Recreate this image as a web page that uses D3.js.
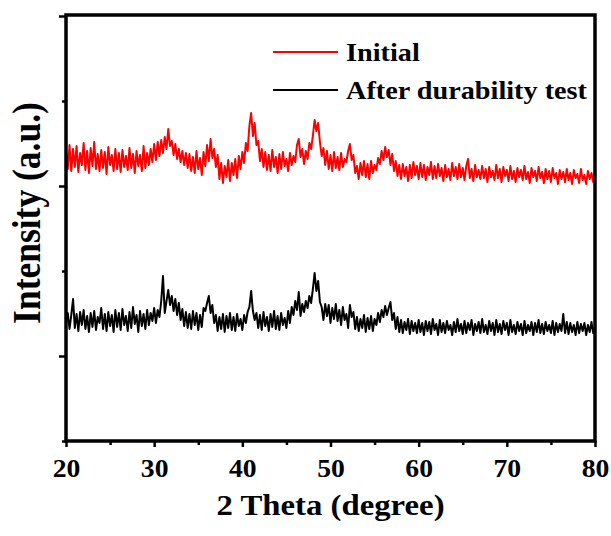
<!DOCTYPE html>
<html>

<head>
    <meta charset="UTF-8">
    <title>XRD</title>
    <script src="https://cdnjs.cloudflare.com/ajax/libs/d3/7.8.5/d3.min.js"></script>
    <style>
        body { margin: 0; background: #fff; }
        text { font-family: "Liberation Serif", "Times New Roman", serif; font-weight: bold; }
    </style>
</head>

<body>
    <svg id="chart"></svg>
    <script>

        // 2 theta grid: 20 to 80 in steps of 0.2 degree
        var thetaStart = 20, thetaStep = 0.2

        // intensity (a.u.), 5 points per degree
        var initial = [
            290, 272, 296, 270, 292,
            274, 295, 269, 288, 276,
            298, 271, 290, 268, 293,
            275, 299, 272, 287, 270,
            291, 273, 289, 267, 294,
            276, 286, 270, 292, 272,
            288, 269, 291, 274, 285,
            271, 293, 273, 287, 268,
            290, 275, 286, 270, 295,
            273, 288, 276, 292, 279,
            297, 281, 299, 285, 301,
            288, 304, 292, 312, 295,
            300, 286, 297, 282, 292,
            279, 290, 276, 288, 273,
            287, 270, 284, 268, 290,
            272, 283, 266, 289, 275,
            296, 280, 302, 283, 292,
            274, 286, 262, 278, 258,
            275, 264, 281, 260, 278,
            266, 282, 263, 285, 272,
            289, 278, 298, 290, 315,
            328, 305, 318, 296, 300,
            280, 292, 274, 289, 271,
            286, 270, 291, 274, 284,
            268, 287, 272, 289, 275,
            282, 270, 288, 276, 285,
            279, 296, 302, 284, 292,
            277, 290, 282, 298, 292,
            305, 321, 310, 318, 299,
            285, 293, 276, 290, 272,
            286, 270, 289, 273, 284,
            271, 288, 274, 282, 279,
            290, 297, 281, 286, 268,
            275, 262, 278, 266, 280,
            264, 277, 262, 280, 268,
            276, 271, 283, 277, 290,
            281, 294, 284, 291, 276,
            287, 270, 280, 265, 276,
            262, 277, 265, 274, 260,
            276, 263, 279, 266, 275,
            262, 278, 264, 276, 261,
            274, 266, 279, 262, 275,
            263, 277, 265, 273, 260,
            276, 264, 272, 261, 278,
            265, 274, 262, 277, 264,
            273, 261, 275, 282, 263,
            272, 260, 276, 264, 271,
            262, 275, 263, 272, 259,
            274, 264, 270, 261, 276,
            263, 272, 259, 274, 265,
            271, 260, 275, 262, 270,
            259, 273, 264, 271, 261,
            275, 262, 269, 258, 273,
            264, 270, 260, 274, 263,
            269, 258, 272, 262, 270,
            259, 273, 263, 268, 257,
            271, 262, 269, 259, 272,
            261, 268, 257, 271, 263,
            267, 258, 272, 261, 266,
            257, 270, 262, 268, 259,
            270
        ]

        var afterTest = [
            118, 128, 112, 126, 142,
            113, 127, 110, 129, 116,
            131, 112, 125, 109, 128,
            114, 130, 111, 124, 118,
            133, 112, 127, 110, 129,
            115, 126, 109, 131, 114,
            128, 111, 132, 116, 125,
            110, 129, 113, 134, 117,
            126, 109, 130, 115, 127,
            112, 131, 116, 128, 120,
            133, 118, 131, 124, 140,
            165, 128, 140, 151, 136,
            145, 130, 142, 126, 138,
            121, 132, 115, 129, 113,
            127, 112, 130, 116, 128,
            111, 126, 114, 133, 130,
            138, 145, 128, 136, 118,
            126, 110, 124, 112, 127,
            109, 125, 113, 128, 111,
            124, 110, 127, 115, 122,
            111, 126, 118, 129, 134,
            150, 130, 121, 128, 113,
            126, 111, 129, 115, 124,
            110, 127, 114, 130, 112,
            125, 111, 128, 116, 123,
            113, 130, 118, 134, 126,
            140, 131, 149, 125, 137,
            129, 140, 133, 145, 138,
            152, 168, 150, 160, 139,
            134, 121, 137, 125, 136,
            118, 133, 122, 137, 120,
            131, 116, 134, 121, 127,
            113, 136, 124, 129, 112,
            124, 110, 122, 113, 126,
            109, 123, 112, 125, 110,
            122, 116, 128, 119, 131,
            124, 135, 126, 133, 139,
            121, 128, 112, 124, 109,
            121, 108, 119, 111, 122,
            107, 120, 110, 118, 108,
            121, 109, 118, 106, 120,
            110, 119, 107, 122, 111,
            117, 106, 121, 109, 118,
            108, 120, 111, 116, 106,
            119, 109, 122, 110, 117,
            107, 120, 108, 118, 111,
            121, 106, 117, 110, 119,
            108, 122, 109, 116, 107,
            120, 110, 118, 106, 121,
            109, 117, 107, 120, 111,
            118, 106, 121, 109, 116,
            107, 119, 110, 117, 106,
            120, 108, 116, 110, 119,
            106, 118, 109, 121, 108,
            117, 107, 119, 110, 116,
            108, 120, 106, 118, 109,
            117, 110, 127, 108, 119,
            107, 118, 109, 116, 106,
            119, 108, 117, 110, 118,
            106, 116, 109, 119, 108,
            115
        ]

        var xMajorTicks = [20, 30, 40, 50, 60, 70, 80]
        var xMinorTicks = [25, 35, 45, 55, 65, 75]
        var yMajorTicks = [85, 255, 425]
        var yMinorTicks = [0, 170, 340]

        var seriesNames = ["Initial", "After durability test"]
        var seriesColors = ["#ff0000", "#000000"]

        var svgWidth = 611, svgHeight = 536
        var margin = { top: 15, right: 16, bottom: 95, left: 66 }
        var width = svgWidth - margin.left - margin.right
        var height = svgHeight - margin.top - margin.bottom
        var stretch = 1.13   // the source text is a bit wider than plain Times

        var svg = d3.select("#chart")
            .attr("width", svgWidth)
            .attr("height", svgHeight)

        var g = svg.append("g")
            .attr("transform", "translate(" + margin.left + "," + margin.top + ")")

        var x = d3.scaleLinear().domain([20, 80]).range([0, width])
        var y = d3.scaleLinear().domain([0, 426]).range([height, 0])

        function toPoints(arr) {
            return arr.map(function (v, i) {
                return { t: thetaStart + i * thetaStep, v: v }
            })
        }

        var line = d3.line()
            .x(function (d) { return x(d.t) })
            .y(function (d) { return y(d.v) })

        var series = [toPoints(initial), toPoints(afterTest)]

        series.forEach(function (s, i) {
            g.append("path")
                .datum(s)
                .attr("fill", "none")
                .attr("stroke", seriesColors[i])
                .attr("stroke-width", 2)
                .attr("stroke-linejoin", "round")
                .attr("d", line)
        })

        // axes
        function styleAxis(sel) {
            sel.select(".domain").remove()
            sel.selectAll(".tick line").attr("stroke", "#000").attr("stroke-width", 2.5)
        }

        var xAxis = g.append("g")
            .attr("transform", "translate(0," + height + ")")
            .call(d3.axisBottom(x).tickValues(xMajorTicks).tickSize(6).tickPadding(10))
        styleAxis(xAxis)
        xAxis.selectAll("text")
            .attr("font-size", 24.5)
            .attr("fill", "#000")
            .attr("y", 0).attr("dy", 0)
            .attr("transform", "translate(0,36) scale(" + stretch + ",1)")

        var xMinor = g.append("g")
            .attr("transform", "translate(0," + height + ")")
            .call(d3.axisBottom(x).tickValues(xMinorTicks).tickSize(4).tickFormat(""))
        styleAxis(xMinor)

        var yAxis = g.append("g")
            .call(d3.axisLeft(y).tickValues(yMajorTicks).tickSize(7).tickFormat(""))
        styleAxis(yAxis)

        var yMinor = g.append("g")
            .call(d3.axisLeft(y).tickValues(yMinorTicks).tickSize(4).tickFormat(""))
        styleAxis(yMinor)

        // frame
        g.append("rect")
            .attr("x", 0).attr("y", 0)
            .attr("width", width).attr("height", height)
            .attr("fill", "none")
            .attr("stroke", "#000")
            .attr("stroke-width", 3.5)

        // axis titles
        svg.append("text")
            .attr("transform", "translate(" + (margin.left + width / 2) + ",515) scale(" + stretch + ",1)")
            .attr("text-anchor", "middle")
            .attr("font-size", 29)
            .text("2 Theta (degree)")

        svg.append("text")
            .attr("transform", "translate(40,213) rotate(-90) scale(1," + stretch + ")")
            .attr("text-anchor", "middle")
            .attr("font-size", 35.5)
            .text("Intensity (a.u.)")

        // legend
        var legend = g.append("g").attr("transform", "translate(207,37)")
        seriesNames.forEach(function (name, i) {
            var row = legend.append("g").attr("transform", "translate(0," + i * 38 + ")")
            row.append("line")
                .attr("x1", 0).attr("x2", 65)
                .attr("y1", 0).attr("y2", 0)
                .attr("stroke", seriesColors[i])
                .attr("stroke-width", 2)
            row.append("text")
                .attr("transform", "translate(73,9) scale(" + stretch + ",1)")
                .attr("font-size", 25)
                .attr("fill", "#000")
                .text(name)
        })

    </script>
</body>

</html>
